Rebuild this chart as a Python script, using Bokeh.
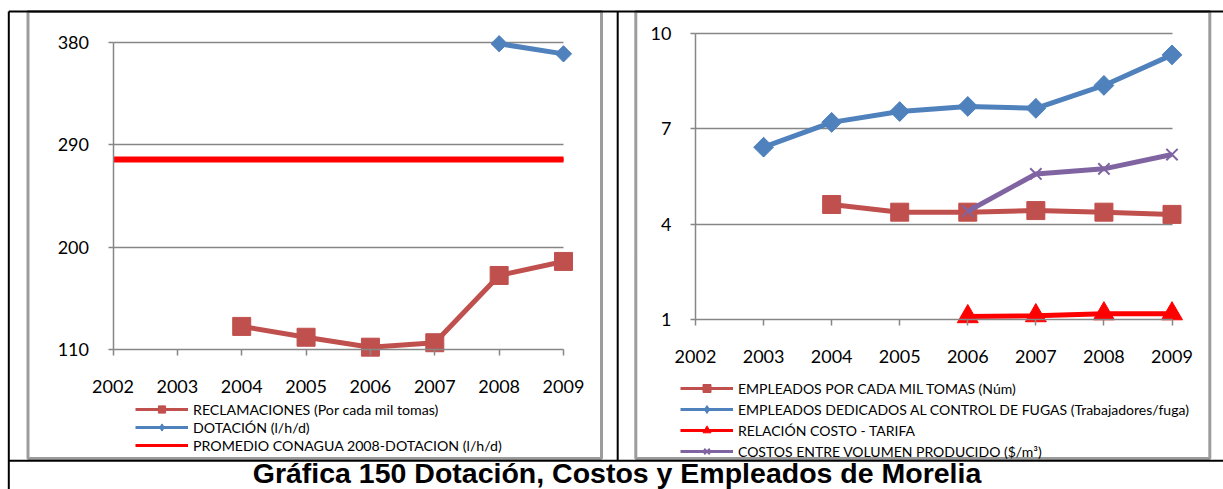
import numpy as np
from bokeh.plotting import figure
from bokeh.models import Range1d, LinearAxis, FixedTicker, Grid, Legend, LegendItem
from bokeh.core.properties import value
from bokeh.embed import file_html
from bokeh.resources import INLINE

# ---------------- DATA ----------------
years = [2002, 2003, 2004, 2005, 2006, 2007, 2008, 2009]
year_labels = ["2002", "2003", "2004", "2005", "2006", "2007", "2008", "2009"]

# left chart
left_ticks = [110, 200, 290, 380]
left_tick_labels = ["110", "200", "290", "380"]
reclamaciones_years = [2004, 2005, 2006, 2007, 2008, 2009]
reclamaciones = [130.5, 121.0, 112.3, 116.2, 175.2, 187.5]
dotacion_years = [2008, 2009]
dotacion = [378.5, 369.6]
promedio_years = [2002, 2003, 2004, 2005, 2006, 2007, 2008, 2009]
promedio_conagua = [277, 277, 277, 277, 277, 277, 277, 277]
left_series_names = ["RECLAMACIONES (Por cada mil tomas)",
                     "DOTACIÓN (l/h/d)",
                     "PROMEDIO CONAGUA 2008-DOTACION (l/h/d)"]

# right chart
right_ticks = [1, 4, 7, 10]
right_tick_labels = ["1", "4", "7", "10"]
empleados_mil_years = [2004, 2005, 2006, 2007, 2008, 2009]
empleados_mil = [4.62, 4.38, 4.38, 4.43, 4.38, 4.31]
empleados_fugas_years = [2003, 2004, 2005, 2006, 2007, 2008, 2009]
empleados_fugas = [6.42, 7.20, 7.54, 7.70, 7.64, 8.36, 9.32]
relacion_years = [2006, 2007, 2008, 2009]
relacion_costo_tarifa = [1.10, 1.13, 1.19, 1.19]
costos_years = [2006, 2007, 2008, 2009]
costos_volumen = [4.41, 5.58, 5.74, 6.19]
right_series_names = ["EMPLEADOS POR CADA MIL TOMAS (Núm)",
                      "EMPLEADOS DEDICADOS AL CONTROL DE FUGAS (Trabajadores/fuga)",
                      "RELACIÓN COSTO - TARIFA",
                      "COSTOS ENTRE VOLUMEN PRODUCIDO ($/m³)"]

TITLE = "Gráfica 150 Dotación, Costos y Empleados de Morelia"

# ---------------- LAYOUT / STYLE ----------------
W, H = 1223, 489
PAGE = 0


def px(v):
    """page pixel -> canvas pixel"""
    return v - PAGE


def lin_range(v_a, c_a, v_b, c_b, size, flip=False):
    k = (v_b - v_a) / (c_b - c_a)
    at0 = v_a - c_a * k
    atN = v_a + (size - c_a) * k
    return Range1d(atN, at0) if flip else Range1d(at0, atN)


C_REDBROWN = "#C0504D"
C_BLUE = "#4F81BD"
C_RED = "#FF0000"
C_PURPLE = "#8064A2"
C_AXIS = "#868686"
C_BOX = "#9c9c9c"
FONT = "Lato"

p = figure(width=W, height=H, x_range=Range1d(0, W), y_range=Range1d(H, 0),
           x_axis_type=None, y_axis_type=None, output_backend="svg",
           toolbar_location=None, min_border=0)
p.outline_line_color = None
p.background_fill_color = "white"
p.border_fill_color = "white"

p.extra_x_ranges = {
    "x1": lin_range(years[0], px(112.5), years[-1], px(563.0), W),
    "x2": lin_range(years[0], px(695.0), years[-1], px(1171.5), W),
}
p.extra_y_ranges = {
    "y1": lin_range(left_ticks[0], px(349.3), left_ticks[-1], px(41.5), H, flip=True),
    "y2": lin_range(right_ticks[0], px(319.3), right_ticks[-1], px(32.7), H, flip=True),
}

# chart-area boxes (gray) and the black frame
box_l = [px(27.5), px(635.3)]
box_r = [px(601.0), px(1209.3)]
box_t = [px(11.0), px(11.0)]
box_b = [px(458.0), px(458.0)]
p.quad(left=box_l, right=box_r, top=box_t, bottom=box_b, fill_alpha=0,
       line_color=C_BOX, line_width=3)

seg_x0 = [px(8.3), px(8.3), px(617.2), px(8.3)]
seg_x1 = [W, px(8.3), px(617.2), W]
seg_y0 = [px(11), px(11), px(11), px(460.3)]
seg_y1 = [px(11), H, px(460.3), px(460.3)]
p.segment(x0=seg_x0, y0=seg_y0, x1=seg_x1, y1=seg_y1, line_color="black", line_width=2)

p.text(x=[px(616.5)], y=[px(488.0)], text=[TITLE], text_font=value("Liberation Sans"),
       text_font_style="bold", text_font_size="28.5px", text_align="center",
       text_baseline="bottom", text_color="black")


def add_axes(xr, yr, ticks, tick_labels):
    yax = LinearAxis(x_range_name=xr, y_range_name=yr, fixed_location=years[0],
                     bounds=(ticks[0], ticks[-1]), ticker=FixedTicker(ticks=ticks),
                     major_label_overrides=dict(zip(ticks, tick_labels)))
    xax = LinearAxis(x_range_name=xr, y_range_name=yr, fixed_location=ticks[0],
                     bounds=(years[0], years[-1]), ticker=FixedTicker(ticks=years),
                     major_label_overrides=dict(zip(years, year_labels)))
    for ax in (yax, xax):
        ax.axis_line_color = C_AXIS
        ax.axis_line_width = 1.5
        ax.major_tick_line_color = C_AXIS
        ax.major_tick_line_width = 1.5
        ax.major_tick_in = 0
        ax.minor_tick_line_color = None
        ax.major_label_text_font = FONT
        ax.major_label_text_font_size = "18px"
        ax.major_label_text_color = "black"
    yax.major_tick_out = 5
    yax.major_label_standoff = 19
    xax.major_tick_out = 6
    xax.major_label_standoff = 24
    p.add_layout(yax, "left")
    p.add_layout(xax, "below")
    g = Grid(dimension=1, ticker=FixedTicker(ticks=ticks[1:]), x_range_name=xr, y_range_name=yr,
             cross_bounds=(years[0], years[-1]), grid_line_color=C_AXIS, grid_line_width=1.5)
    p.add_layout(g)


add_axes("x1", "y1", left_ticks, left_tick_labels)
add_axes("x2", "y2", right_ticks, right_tick_labels)

ROT = np.pi / 4

# ---- left chart series ----
k1 = dict(x_range_name="x1", y_range_name="y1")
l_rec = p.line(reclamaciones_years, reclamaciones, line_color=C_REDBROWN, line_width=3, **k1)
p.line(reclamaciones_years, reclamaciones, line_color=C_REDBROWN, line_width=5, **k1)
m_rec = p.scatter(reclamaciones_years, reclamaciones, marker="square", size=18,
                  fill_color=C_REDBROWN, line_color=C_REDBROWN, **k1)

l_dot = p.line(dotacion_years, dotacion, line_color=C_BLUE, line_width=3, **k1)
p.line(dotacion_years, dotacion, line_color=C_BLUE, line_width=5, **k1)
m_dot = p.scatter(dotacion_years, dotacion, marker="diamond", size=15,
                  fill_color=C_BLUE, line_color=C_BLUE, **k1)
p.scatter(dotacion_years, dotacion, marker="square", size=11.5, angle=ROT,
          fill_color=C_BLUE, line_color=C_BLUE, **k1)

l_pro = p.line(promedio_years, promedio_conagua, line_color=C_RED, line_width=3, **k1)
p.line(promedio_years, promedio_conagua, line_color=C_RED, line_width=6, **k1)

leg1 = Legend(items=[LegendItem(label=left_series_names[0], renderers=[l_rec, m_rec]),
                     LegendItem(label=left_series_names[1], renderers=[l_dot, m_dot]),
                     LegendItem(label=left_series_names[2], renderers=[l_pro])],
              location=(px(135), H - px(454.3)))

# ---- right chart series ----
k2 = dict(x_range_name="x2", y_range_name="y2")
l_em = p.line(empleados_mil_years, empleados_mil, line_color=C_REDBROWN, line_width=3, **k2)
p.line(empleados_mil_years, empleados_mil, line_color=C_REDBROWN, line_width=5, **k2)
m_em = p.scatter(empleados_mil_years, empleados_mil, marker="square", size=18,
                 fill_color=C_REDBROWN, line_color=C_REDBROWN, **k2)

l_ef = p.line(empleados_fugas_years, empleados_fugas, line_color=C_BLUE, line_width=3, **k2)
p.line(empleados_fugas_years, empleados_fugas, line_color=C_BLUE, line_width=5, **k2)
m_ef = p.scatter(empleados_fugas_years, empleados_fugas, marker="diamond", size=19,
                 fill_color=C_BLUE, line_color=C_BLUE, **k2)
p.scatter(empleados_fugas_years, empleados_fugas, marker="square", size=14, angle=ROT,
          fill_color=C_BLUE, line_color=C_BLUE, **k2)

l_rc = p.line(relacion_years, relacion_costo_tarifa, line_color=C_RED, line_width=3, **k2)
p.line(relacion_years, relacion_costo_tarifa, line_color=C_RED, line_width=5, **k2)
m_rc = p.scatter(relacion_years, relacion_costo_tarifa, marker="triangle", size=21,
                 fill_color=C_RED, line_color=C_RED, **k2)

l_cv = p.line(costos_years, costos_volumen, line_color=C_PURPLE, line_width=3, **k2)
p.line(costos_years, costos_volumen, line_color=C_PURPLE, line_width=5, **k2)
m_cv = p.scatter(costos_years, costos_volumen, marker="x", size=16, line_width=2,
                 line_color=C_PURPLE, **k2)

leg2 = Legend(items=[LegendItem(label=right_series_names[0], renderers=[l_em, m_em]),
                     LegendItem(label=right_series_names[1], renderers=[l_ef, m_ef]),
                     LegendItem(label=right_series_names[2], renderers=[l_rc, m_rc]),
                     LegendItem(label=right_series_names[3], renderers=[l_cv, m_cv])],
              location=(px(680), H - px(461)))

for lg, gh, fs in ((leg1, 18, "14.2px"), (leg2, 20, "14px")):
    lg.padding = 0
    lg.margin = 0
    lg.spacing = 0 if gh == 18 else 1
    lg.border_line_color = None
    lg.background_fill_alpha = 0
    lg.label_text_font = FONT
    lg.label_text_font_size = fs
    lg.label_text_color = "black"
    lg.glyph_width = 53
    lg.glyph_height = gh
    lg.label_height = gh
    lg.label_standoff = 5
    p.add_layout(lg)

open("out.html", "w").write(file_html(p, INLINE))
